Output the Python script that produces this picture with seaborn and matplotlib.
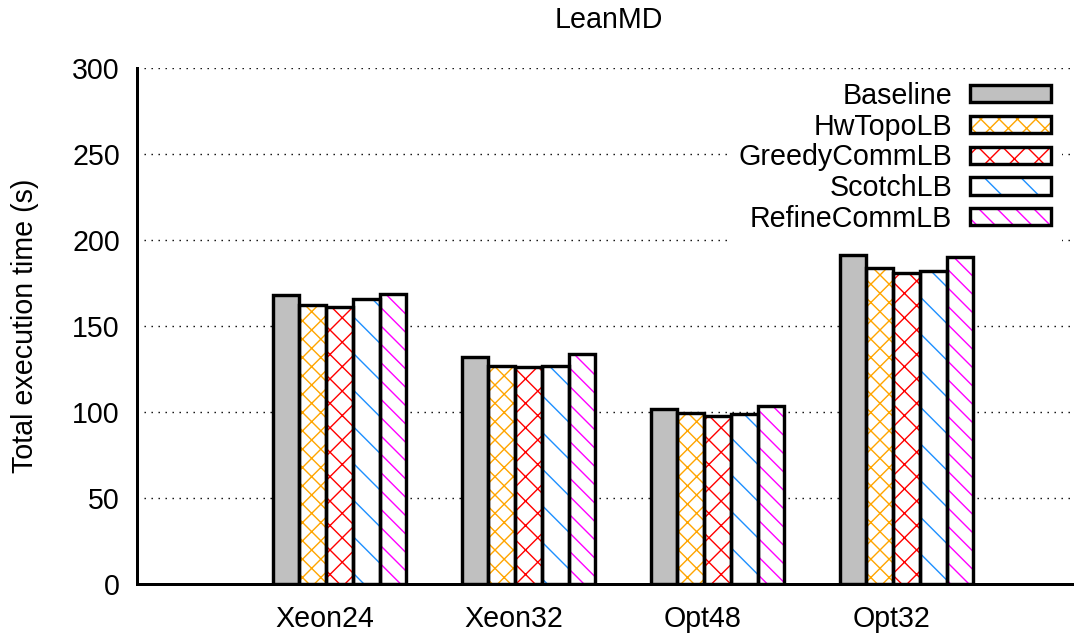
import matplotlib
matplotlib.use("Agg")
import matplotlib.pyplot as plt
import seaborn as sns
import pandas as pd
from matplotlib.legend_handler import HandlerTuple
from matplotlib.patches import Rectangle

# ---- data -------------------------------------------------------------
platforms = ["Xeon24", "Xeon32", "Opt48", "Opt32"]
strategies = ["Baseline", "HwTopoLB", "GreedyCommLB", "ScotchLB", "RefineCommLB"]
baseline = [167.8, 131.8, 101.7, 191.0]
hwtopolb = [162.4, 126.7, 99.6, 183.7]
greedycommlb = [160.8, 126.3, 97.7, 181.0]
scotchlb = [165.6, 127.0, 98.8, 181.8]
refinecommlb = [168.8, 134.0, 103.5, 190.3]
yticks = [0, 50, 100, 150, 200, 250, 300]

# ---- styling ----------------------------------------------------------
face_colors = ["#c0c0c0", "white", "white", "white", "white"]
hatch_colors = ["#c0c0c0", "#ffa500", "#ff0000", "#1e90ff", "#ff00ff"]
hatches = ["", "xxxx", "xxx", "\\\\", "\\\\\\\\"]

DPI = 220
W_PX, H_PX = 1074, 637


def pt(px):
    """Convert a size in output pixels to points."""
    return px * 72.0 / DPI


sns.set_style("white")
plt.rcParams["font.family"] = ["Liberation Sans", "DejaVu Sans"]
plt.rcParams["text.color"] = "black"
plt.rcParams["axes.labelcolor"] = "black"
plt.rcParams["hatch.linewidth"] = pt(1.4)
FS = pt(28.6)
BAR_LW = pt(3.4)
AXIS_LW = pt(3.0)

df = pd.DataFrame({
    "platform": platforms * len(strategies),
    "strategy": [s for s in strategies for _ in platforms],
    "time": baseline + hwtopolb + greedycommlb + scotchlb + refinecommlb,
})

fig = plt.figure(figsize=(W_PX / DPI, H_PX / DPI), dpi=DPI)
ax = fig.add_axes([137 / W_PX, 53 / H_PX, 1 - 137 / W_PX, 516 / H_PX])

GROUP_W = 0.707

# hatched fill layer
sns.barplot(data=df, x="platform", y="time", hue="strategy", order=platforms,
            hue_order=strategies, palette=hatch_colors, width=GROUP_W,
            errorbar=None, legend=False, ax=ax)
fill_layer = list(ax.containers)
for cont, fc, hc, h in zip(fill_layer, face_colors, hatch_colors, hatches):
    for bar in cont:
        bar.set_facecolor(fc)
        bar.set_edgecolor(hc)
        bar.set_linewidth(0)
        bar.set_hatch(h)

# black outline layer
sns.barplot(data=df, x="platform", y="time", hue="strategy", order=platforms,
            hue_order=strategies, palette=hatch_colors, width=GROUP_W,
            errorbar=None, legend=False, ax=ax)
outline_layer = list(ax.containers)[len(fill_layer):]
for cont in outline_layer:
    for bar in cont:
        bar.set_facecolor("none")
        bar.set_edgecolor("black")
        bar.set_linewidth(BAR_LW)

# ---- axes -------------------------------------------------------------
ax.set_xlim(-1.071, 3.886)
ax.set_ylim(0, 300)
ax.set_yticks(yticks)
ax.set_xticks([i - 0.077 for i in range(len(platforms))])
ax.set_xticklabels(platforms)
ax.set_xlabel("")
ax.set_ylabel("Total execution time (s)", fontsize=FS)
ax.yaxis.set_label_coords(-0.105, 0.5)
ax.tick_params(axis="y", direction="in", length=pt(13), width=AXIS_LW, pad=pt(17),
               labelsize=FS, color="black", labelcolor="black")
ax.tick_params(axis="x", length=0, pad=pt(21), labelsize=FS, labelcolor="black")
for side in ("top", "right"):
    ax.spines[side].set_visible(False)
for side in ("left", "bottom"):
    ax.spines[side].set_color("black")
    ax.spines[side].set_linewidth(AXIS_LW)
ax.set_axisbelow(True)
ax.yaxis.grid(True, color="black", linestyle=(0, (1, 4)), linewidth=pt(1.4))
ax.xaxis.grid(False)

fig.text(609 / W_PX, 1 - 28.3 / H_PX, "LeanMD", ha="center", va="baseline",
         fontsize=FS)

# ---- legend (opaque white box, no border) -----------------------------
handles = []
for fc, hc, h in zip(face_colors, hatch_colors, hatches):
    fill = Rectangle((0, 0), 1, 1, facecolor=fc, edgecolor=hc, linewidth=0, hatch=h)
    border = Rectangle((0, 0), 1, 1, facecolor="none", edgecolor="black",
                       linewidth=BAR_LW)
    handles.append((fill, border))
LEG_PAD = 0.4
pad_px = LEG_PAD * 28.6
leg = ax.legend(handles, strategies,
                handler_map={tuple: HandlerTuple(ndivide=1, pad=0)},
                loc="upper right",
                bbox_to_anchor=((1050.7 + pad_px) / W_PX, 1 - (82 - pad_px) / H_PX),
                bbox_transform=fig.transFigure, frameon=True, fancybox=False,
                facecolor="white", edgecolor="none", framealpha=1,
                markerfirst=False, fontsize=FS, handlelength=2.82,
                handleheight=0.55, handletextpad=0.63, labelspacing=0.095,
                borderpad=LEG_PAD, borderaxespad=0)

fig.savefig("out.png", dpi=DPI)
